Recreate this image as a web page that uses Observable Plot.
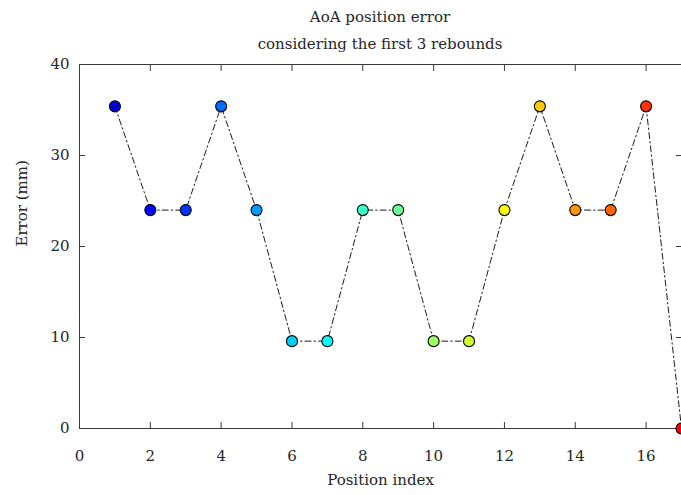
<!DOCTYPE html>
<html>
<head>
<meta charset="utf-8">
<script src="https://cdn.jsdelivr.net/npm/d3@7"></script>
<script src="https://cdn.jsdelivr.net/npm/@observablehq/plot@0.6"></script>
<style>
  html, body { margin: 0; padding: 0; background: #fff; overflow: hidden; }
  #wrap { width: 681px; height: 495px; position: relative; font-family: "DejaVu Serif", serif; color: #262626; }
  #title { position: absolute; left: 79px; width: 602px; top: 0; height: 55px; text-align: center; font-size: 15px; line-height: 27px; padding-top: 4px; box-sizing: border-box; }
  #chart { position: absolute; left: 0; top: 55px; }
</style>
</head>
<body>
<div id="wrap">
  <div id="title">AoA position error<br>considering the first 3 rebounds</div>
  <div id="chart"></div>
</div>
<script>
const positions = [1, 2, 3, 4, 5, 6, 7, 8, 9, 10, 11, 12, 13, 14, 15, 16, 17];
const errors = [35.4, 24, 24, 35.4, 24, 9.6, 9.6, 24, 24, 9.6, 9.6, 24, 35.4, 24, 24, 35.4, 0];
const xTicks = [0, 2, 4, 6, 8, 10, 12, 14, 16];
const yTicks = [0, 10, 20, 30, 40];

const data = positions.map((p, i) => ({pos: p, err: errors[i]}));

const clamp = v => Math.max(0, Math.min(1, v));
function jet(t) {
  const u = 0.08 + 0.795 * t;
  const r = clamp(1.5 - Math.abs(4 * u - 3));
  const g = clamp(1.5 - Math.abs(4 * u - 2));
  const b = clamp(1.5 - Math.abs(4 * u - 1));
  return d3.rgb(r * 255, g * 255, b * 255).formatHex();
}

const axisColor = "#3a3a3a";
const chart = Plot.plot({
  width: 681,
  height: 440,
  marginLeft: 79,
  marginRight: 0,
  marginTop: 9,
  marginBottom: 67,
  style: {fontFamily: "'DejaVu Serif', serif", fontSize: "15px", color: "#262626", background: "white", overflow: "visible"},
  x: {domain: [0, 17], ticks: xTicks, label: null},
  y: {domain: [0, 40], ticks: yTicks, label: null},
  color: {type: "linear", domain: [1, 17], interpolate: jet},
  marks: [
    Plot.frame({stroke: axisColor, strokeWidth: 1}),
    Plot.axisX({anchor: "bottom", ticks: xTicks, tickSize: -6, tickPadding: 28, stroke: axisColor, fill: "#262626", fontSize: 15, label: null}),
    Plot.axisX({anchor: "top", ticks: xTicks, tickSize: -6, tickFormat: () => "", stroke: axisColor, label: null}),
    Plot.axisY({anchor: "left", ticks: yTicks, tickSize: -6, tickPadding: 16, stroke: axisColor, fill: "#262626", fontSize: 15, label: null}),
    Plot.axisY({anchor: "right", ticks: yTicks, tickSize: -6, tickFormat: () => "", stroke: axisColor, label: null}),
    Plot.text(["Position index"], {frameAnchor: "bottom", dy: 56, fontSize: 15, fill: "#262626"}),
    Plot.text(["Error (mm)"], {frameAnchor: "left", dx: -57, rotate: -90, fontSize: 15, fill: "#262626"}),
    Plot.line(data, {x: "pos", y: "err", stroke: "black", strokeWidth: 0.9, strokeDasharray: "6,3,1.5,3"}),
    Plot.dot(data, {x: "pos", y: "err", fill: "pos", r: 5.5, stroke: "black", strokeWidth: 1.1})
  ]
});
document.getElementById("chart").appendChild(chart);
</script>
</body>
</html>
